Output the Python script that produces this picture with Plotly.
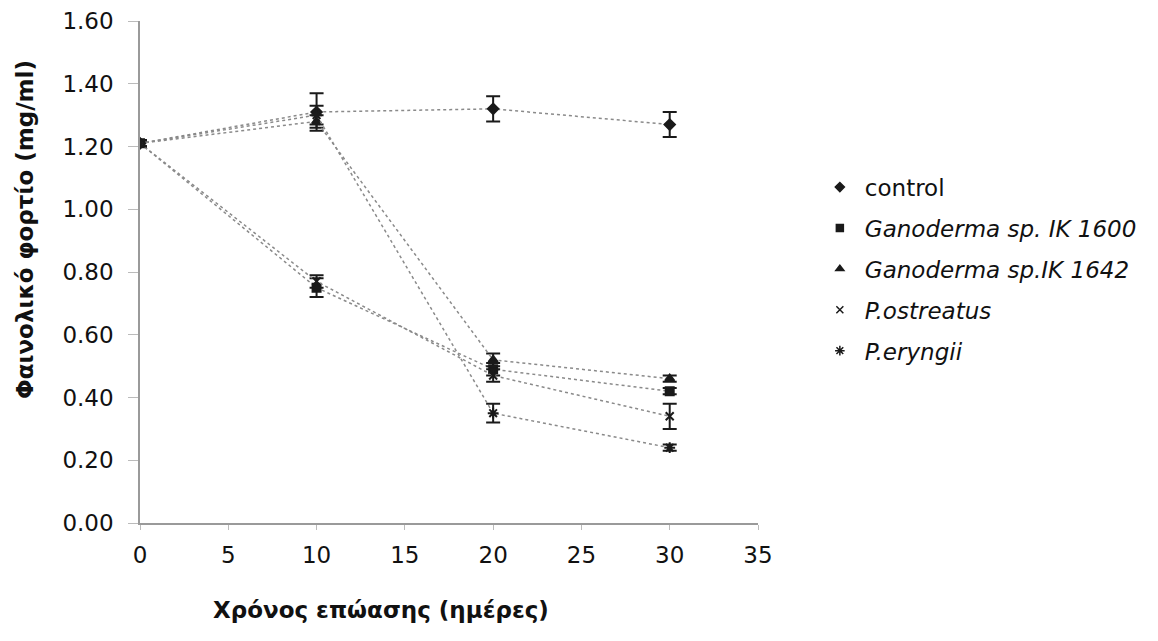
import plotly.graph_objects as go

days = [0, 10, 20, 30]
series_names = ["control", "Ganoderma sp. IK 1600", "Ganoderma sp.IK 1642", "P.ostreatus", "P.eryngii"]
control = [1.21, 1.31, 1.32, 1.27]
control_err = [0.01, 0.06, 0.04, 0.04]
gano_1600 = [1.21, 0.75, 0.49, 0.42]
gano_1600_err = [0.01, 0.03, 0.02, 0.01]
gano_1642 = [1.21, 1.28, 0.52, 0.46]
gano_1642_err = [0.01, 0.02, 0.02, 0.01]
p_ostreatus = [1.21, 0.77, 0.47, 0.34]
p_ostreatus_err = [0.01, 0.02, 0.02, 0.04]
p_eryngii = [1.21, 1.30, 0.35, 0.24]
p_eryngii_err = [0.01, 0.03, 0.03, 0.01]

values = [control, gano_1600, gano_1642, p_ostreatus, p_eryngii]
errors = [control_err, gano_1600_err, gano_1642_err, p_ostreatus_err, p_eryngii_err]
symbols = ["diamond", "square", "triangle-up", "x-thin-open", "asterisk-open"]
sizes = [8, 8, 8, 8, 9]
leg_sizes = [7, 7, 7, 7, 8]
legend_text = ["control", "<i>Ganoderma sp. IK 1600</i>", "<i>Ganoderma sp.IK 1642</i>",
               "<i>P.ostreatus</i>", "<i>P.eryngii</i>"]

FONT = "DejaVu Sans, Liberation Sans, Arial, sans-serif"
INK = "#1a1a1a"

fig = go.Figure()
for i, (lbl, y, e, sym, sz) in enumerate(zip(legend_text, values, errors, symbols, sizes)):
    fig.add_trace(go.Scatter(
        x=days, y=y, name=lbl, mode="lines+markers", showlegend=False,
        line=dict(color="#8a8a8a", width=1.5, dash="dot"),
        marker=dict(symbol=sym, size=sz, color=INK, line=dict(color=INK, width=2)),
        error_y=dict(type="data", array=e, visible=True, color=INK, thickness=2, width=7),
    ))
# legend entries show markers only, as in the reference
for i, (lbl, sym, sz) in enumerate(zip(legend_text, symbols, leg_sizes)):
    fig.add_trace(go.Scatter(
        x=[None], y=[None], name=lbl, mode="markers", legendgroup=f"g{i}",
        marker=dict(symbol=sym, size=sz, color=INK, line=dict(color=INK, width=1.5)),
    ))

fig.update_layout(
    width=1158, height=641,
    margin=dict(l=132, r=408, t=13, b=126, autoexpand=False),
    paper_bgcolor="white", plot_bgcolor="white",
    font=dict(family=FONT, size=22, color="#111"),
    showlegend=True,
    legend=dict(x=1.092, y=0.712, xanchor="left", yanchor="top",
                font=dict(family=FONT, size=23, color="#111"),
                tracegroupgap=8, traceorder="grouped", itemsizing="trace",
                itemwidth=40, bgcolor="rgba(0,0,0,0)"),
    xaxis=dict(range=[0, 35], tickvals=[0, 5, 10, 15, 20, 25, 30, 35],
               showgrid=False, zeroline=False, showline=True, linecolor="#9a9a9a",
               linewidth=1.5, ticks="outside", ticklen=5, tickcolor="#bbbbbb",
               tickfont=dict(size=23), ticklabelstandoff=6, automargin=False),
    yaxis=dict(range=[0, 1.6], tickvals=[0, 0.2, 0.4, 0.6, 0.8, 1.0, 1.2, 1.4, 1.6],
               tickformat=".2f", showgrid=False, zeroline=False, showline=True,
               linecolor="#9a9a9a", linewidth=1.5, ticks="outside", ticklen=10,
               tickcolor="#bbbbbb", tickfont=dict(size=23), ticklabelstandoff=10,
               ticklabeloverflow="allow", automargin=False),
    annotations=[
        dict(text="<b>Χρόνος επώασης (ημέρες)</b>", xref="paper", yref="paper",
             x=0.39, y=-0.173, xanchor="center", yanchor="middle", showarrow=False,
             font=dict(family=FONT, size=23, color="#111")),
        dict(text="<b>Φαινολικό φορτίο (mg/ml)</b>", xref="paper", yref="paper",
             x=-0.186, y=0.584, xanchor="center", yanchor="middle", showarrow=False,
             textangle=-90, font=dict(family=FONT, size=23, color="#111")),
    ],
)

fig.write_html("out.html")
